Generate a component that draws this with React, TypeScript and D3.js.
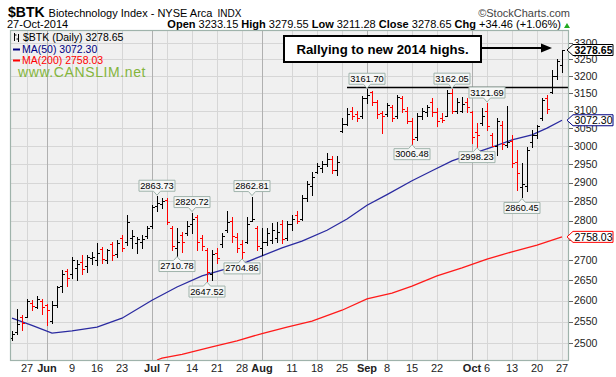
import React from "react";
import * as d3 from "d3";

// ---------- DATA ----------
const dates = [
  "05-21","05-22","05-23","05-27","05-28","05-29","05-30",
  "06-02","06-03","06-04","06-05","06-06","06-09","06-10","06-11","06-12","06-13",
  "06-16","06-17","06-18","06-19","06-20","06-23","06-24","06-25","06-26","06-27","06-30",
  "07-01","07-02","07-03","07-07","07-08","07-09","07-10","07-11","07-14","07-15","07-16","07-17","07-18",
  "07-21","07-22","07-23","07-24","07-25","07-28","07-29","07-30","07-31",
  "08-01","08-04","08-05","08-06","08-07","08-08","08-11","08-12","08-13","08-14","08-15",
  "08-18","08-19","08-20","08-21","08-22","08-25","08-26","08-27","08-28","08-29",
  "09-02","09-03","09-04","09-05","09-08","09-09","09-10","09-11","09-12","09-15","09-16","09-17","09-18","09-19",
  "09-22","09-23","09-24","09-25","09-26","09-29","09-30",
  "10-01","10-02","10-03","10-06","10-07","10-08","10-09","10-10","10-13","10-14","10-15","10-16","10-17",
  "10-20","10-21","10-22","10-23","10-24","10-27",
];

const opens = [
  2512, 2526, 2560, 2562, 2595, 2585, 2600,
  2590, 2552, 2590, 2636, 2672, 2665, 2680, 2695, 2684, 2704,
  2700, 2728, 2700, 2740, 2714, 2756, 2745, 2755, 2742, 2745, 2760,
  2785, 2838, 2842, 2855, 2780, 2730, 2762, 2768, 2790, 2810, 2755, 2725, 2665,
  2718, 2740, 2775, 2800, 2758, 2740, 2745, 2800, 2780,
  2730, 2745, 2750, 2755, 2790, 2755, 2790, 2815, 2805, 2860, 2890,
  2930, 2940, 2950, 2965, 2935, 3042, 3062, 3098, 3090, 3085,
  3135, 3155, 3125, 3093, 3090, 3110, 3085, 3135, 3100, 3070, 3025, 3085, 3095, 3125,
  3095, 3080, 3085, 3150, 3100, 3100, 3125,
  3095, 3040, 3065, 3100, 3030, 3000, 3060, 3003, 3015, 2955, 2888, 2890, 3010,
  3030, 3080, 3135, 3155, 3200, 3233.15,
];

const highs = [
  2528, 2580, 2566, 2603, 2601, 2610, 2604,
  2593, 2598, 2636, 2675, 2676, 2706, 2700, 2712, 2712, 2720,
  2743, 2733, 2728, 2745, 2750, 2762, 2815, 2775, 2758, 2762, 2786,
  2840, 2863.73, 2858, 2858, 2785, 2780, 2771, 2798, 2820.72, 2815, 2763, 2729, 2725,
  2729, 2767, 2825, 2808, 2767, 2750, 2808, 2862.81, 2787,
  2781, 2780, 2793, 2795, 2802, 2798, 2815, 2825, 2868, 2905, 2928,
  2952, 2958, 2980, 2971, 2972, 3078, 3107, 3110, 3100, 3141,
  3161.7, 3158, 3131, 3099, 3121, 3116, 3146, 3143, 3110, 3079, 3093, 3108, 3116, 3136,
  3107, 3093, 3160, 3162.05, 3136, 3140, 3135,
  3099, 3064, 3107, 3121.69, 3036, 3080, 3070, 3112, 3030, 2990, 2952, 2998, 3045,
  3060, 3136, 3146, 3218, 3251, 3279.55,
];

const lows = [
  2508, 2522, 2530, 2560, 2578, 2582, 2567,
  2542, 2546, 2584, 2620, 2636, 2654, 2650, 2664, 2670, 2690,
  2688, 2693, 2693, 2700, 2708, 2722, 2738, 2730, 2716, 2730, 2756,
  2780, 2825, 2832, 2790, 2725, 2710.78, 2720, 2763, 2767, 2725, 2725, 2647.52, 2650,
  2692, 2733, 2771, 2746, 2720, 2704.86, 2742, 2798, 2725,
  2712, 2737, 2742, 2745, 2742, 2750, 2775, 2794, 2802, 2850, 2868,
  2925, 2930, 2945, 2925, 2920, 3040, 3060, 3075, 3070, 3080,
  3121, 3115, 3079, 3036, 3084, 3070, 3079, 3095, 3065, 3006.48, 3017, 3075, 3084, 3084,
  3055, 3068, 3084, 3093, 3093, 3095, 3095,
  3008, 2998.23, 3060, 3045, 3000, 2975, 2993, 2998, 2942, 2881, 2860.45, 2877, 2998,
  3022, 3074, 3093, 3150, 3191, 3211.28,
];

const closes = [
  2520, 2545, 2546, 2598, 2586, 2604, 2585,
  2577, 2590, 2632, 2666, 2656, 2700, 2690, 2676, 2706, 2708,
  2716, 2703, 2724, 2712, 2742, 2730, 2795, 2760, 2752, 2752, 2780,
  2835, 2845, 2850, 2795, 2735, 2745, 2745, 2785, 2805, 2745, 2735, 2670, 2715,
  2705, 2760, 2795, 2760, 2730, 2720, 2790, 2805, 2735,
  2745, 2768, 2775, 2770, 2752, 2790, 2805, 2800, 2860, 2895, 2915,
  2945, 2950, 2965, 2935, 2955, 3062, 3090, 3085, 3078, 3135,
  3145, 3125, 3090, 3083, 3115, 3080, 3140, 3105, 3070, 3020, 3085, 3100, 3110, 3095,
  3070, 3072, 3150, 3100, 3125, 3120, 3110,
  3025, 3030, 3085, 3055, 3000, 3070, 3005, 3010, 2952, 2925, 2895, 2990, 3030,
  3055, 3130, 3105, 3200, 3244.19, 3278.65,
];

const ma50Dates = ["05-21","05-28","06-03","06-09","06-16","06-23","07-01","07-09","07-16","07-23","07-29","08-01","08-07","08-13","08-20","08-26","09-02","09-08","09-15","09-19","09-25","10-01","10-07","10-13","10-17","10-22","10-27"];
const ma50Values = [2558, 2541, 2523, 2528, 2537, 2558, 2601, 2633, 2660, 2678, 2695, 2710, 2730, 2747, 2775, 2804, 2840, 2868, 2905, 2932, 2959, 2978, 2997, 3017, 3031, 3050, 3072.3];

const ma200Dates = ["07-02","07-03","07-10","07-18","07-25","08-01","08-08","08-15","08-25","09-02","09-09","09-15","09-22","09-29","10-06","10-13","10-20","10-27"];
const ma200Values = [2461, 2465, 2474, 2491, 2505, 2522, 2537, 2551, 2577, 2604, 2618, 2635, 2660, 2680, 2702, 2720, 2737, 2758.03];

const yTicks = [2500, 2550, 2600, 2650, 2700, 2750, 2800, 2850, 2900, 2950, 3000, 3050, 3100, 3150, 3200, 3250, 3300];

const xTickDates = ["05-27","06-02","06-09","06-16","06-23","07-01","07-07","07-14","07-21","07-28","08-01","08-11","08-18","08-25","09-02","09-08","09-15","09-22","10-01","10-06","10-13","10-20","10-27"];
const xTickLabels = ["27","Jun","9","16","23","Jul","7","14","21","28","Aug","11","18","25","Sep","8","15","22","Oct","6","13","20","27"];
const monthTickDates = ["06-02","07-01","08-01","09-02","10-01"];

const peakDates = ["07-02","07-14","07-30","09-02","09-25","10-06","07-09","07-17","07-28","09-15","10-02","10-15"];
const peakValues = [2863.73, 2820.72, 2862.81, 3161.7, 3162.05, 3121.69, 2710.78, 2647.52, 2704.86, 3006.48, 2998.23, 2860.45];
const peakKinds = ["high","high","high","high","high","high","low","low","low","low","low","low"];

const resistanceStart = "08-26";
const resistanceLevel = 3169;

const lastClose = 3278.65;
const ma50Last = 3072.3;
const ma200Last = 2758.03;

// ---------- CHART ----------
const FONT = "'Liberation Sans', Arial, Helvetica, sans-serif";
const PL = 10, PR = 569, PT = 30, PB = 361;

export default function App() {
  const x = d3.scalePoint<string>().domain(dates).range([12, 562]);
  const y = d3.scaleLog().domain([2500, 3300]).range([343, 43]);
  const cr = (v: number) => Math.round(v) + 0.5;

  const line = d3
    .line<[string, number]>()
    .x((d) => x(d[0]) as number)
    .y((d) => y(d[1]));

  const ma50Path = line(ma50Dates.map((d, i) => [d, ma50Values[i]] as [string, number])) || "";
  const ma200Path = line(ma200Dates.map((d, i) => [d, ma200Values[i]] as [string, number])) || "";

  const bars = dates.map((d, i) => {
    const cx = cr(x(d) as number);
    const o = cr(y(opens[i]));
    const c = cr(y(closes[i]));
    const h = y(highs[i]);
    const l = y(lows[i]);
    const up = closes[i] >= opens[i];
    const p = `M${cx},${Math.round(h)}V${Math.round(l) + 1}M${cx - 2.5},${o}H${cx}M${cx},${c}H${cx + 2.5}`;
    return <path key={d} d={p} stroke={up ? "#000" : "#ff0000"} strokeWidth={1} fill="none" />;
  });

  const tagValues = [lastClose, ma50Last, ma200Last];

  const tag = (val: number, color: string, bold: boolean, key: string) => {
    const cy = y(val);
    const t = cy - 5.5, b = cy + 5.5;
    return (
      <g key={key}>
        <path d={`M567,${cy}L573,${t}H613V${b}H573Z`} fill="#fff" stroke={color} strokeWidth={1} />
        <text x={593.5} y={cy + 3.8} textAnchor="middle" fontSize={10.5} fontWeight={bold ? "bold" : "normal"} fill="#000" fontFamily={FONT}>
          {val.toFixed(2)}
        </text>
      </g>
    );
  };

  const peaks = peakDates.map((d, i) => {
    const bx = x(d) as number;
    const v = peakValues[i];
    const hw = 18;
    let p: string, ty: number;
    if (peakKinds[i] === "high") {
      const tip = y(v) - 1;
      const bb = tip - 4;
      const bt = bb - 11;
      p = `M${bx - hw},${bt}H${bx + hw}V${bb}H${bx + 3.5}L${bx},${tip}L${bx - 3.5},${bb}H${bx - hw}Z`;
      ty = bb - 2.5;
    } else {
      const tip = y(v) + 1;
      const bt = tip + 4;
      const bb = bt + 11;
      p = `M${bx - hw},${bt}H${bx - 3.5}L${bx},${tip}L${bx + 3.5},${bt}H${bx + hw}V${bb}H${bx - hw}Z`;
      ty = bb - 2.5;
    }
    return (
      <g key={"pk" + i}>
        <path d={p} fill="#f6f7f6" stroke="#9fb3ab" strokeWidth={1} />
        <text x={bx} y={ty} textAnchor="middle" fontSize={9.3} fill="#000" fontFamily={FONT}>
          {v.toFixed(2)}
        </text>
      </g>
    );
  });

  const resY = cr(y(resistanceLevel));

  return (
    <svg width={616} height={377} style={{ position: "absolute", left: 0, top: 0, background: "#fff" }} fontFamily={FONT}>
      <defs>
        <clipPath id="plotClip">
          <rect x={PL} y={PT} width={PR - PL} height={PB - PT} />
        </clipPath>
      </defs>

      {/* header */}
      <text x={8} y={16.5} fontSize={11} fill="#000">
        <tspan fontWeight="bold" fontSize={14}>$BTK</tspan>
        <tspan dx={4}>Biotechnology Index - NYSE Arca</tspan>
        <tspan dx={5} fontSize={10}>INDX</tspan>
      </text>
      <text x={570} y={16.5} textAnchor="end" fontSize={11} fill="#444">©StockCharts.com</text>
      <text x={7} y={28} fontSize={11} fill="#000">27-Oct-2014</text>
      <text x={561} y={28} textAnchor="end" fontSize={11} fill="#000">
        <tspan fontWeight="bold">Open</tspan>
        <tspan> 3233.15 </tspan>
        <tspan fontWeight="bold">High</tspan>
        <tspan> 3279.55 </tspan>
        <tspan fontWeight="bold">Low</tspan>
        <tspan> 3211.28 </tspan>
        <tspan fontWeight="bold">Close</tspan>
        <tspan> 3278.65 </tspan>
        <tspan fontWeight="bold">Chg</tspan>
        <tspan> +34.46 (+1.06%)</tspan>
      </text>
      <path d="M564,28L570,28L567,23Z" fill="#22aa22" />

      {/* plot background */}
      <rect x={PL} y={PT} width={PR - PL} height={PB - PT} fill="#f0f0f0" />

      {/* horizontal grid */}
      {yTicks.map((t) => (
        <line key={"hg" + t} x1={PL} x2={PR} y1={cr(y(t))} y2={cr(y(t))} stroke="#d6d6d6" strokeWidth={1} />
      ))}
      {/* vertical grid */}
      {xTickDates.map((d) => {
        const isM = monthTickDates.includes(d);
        const gx = cr(x(d) as number);
        return <line key={"vg" + d} x1={gx} x2={gx} y1={PT} y2={PB} stroke={isM ? "#b0b0b0" : "#d6d6d6"} strokeWidth={1} />;
      })}

      <g clipPath="url(#plotClip)">
        <path d={ma200Path} fill="none" stroke="#ff1a1a" strokeWidth={1.3} />
        <path d={ma50Path} fill="none" stroke="#2a2aa0" strokeWidth={1.3} />
        {bars}
        <line x1={x(resistanceStart) as number} x2={PR} y1={resY} y2={resY} stroke="#000" strokeWidth={1.4} />
      </g>

      {peaks}

      {/* annotation box */}
      <rect x={284} y={36} width={197} height={26} fill="#fff" stroke="#000" strokeWidth={2} />
      <text x={382.5} y={54} textAnchor="middle" fontSize={13.2} fontWeight="bold" fill="#000">Rallying to new 2014 highs.</text>
      <line x1={482} x2={543} y1={48} y2={48} stroke="#000" strokeWidth={2} />
      <path d="M541,43.5L552,48L541,52.5Z" fill="#000" />

      {/* legend */}
      <g>
        <path d="M14.5,33V41M14.5,35H16.5M18.5,34V42M16.5,39H18.5" stroke="#000" strokeWidth={1} fill="none" />
        <text x={23} y={41} fontSize={10.5} fill="#000">$BTK (Daily) 3278.65</text>
        <line x1={13} x2={20} y1={49.5} y2={49.5} stroke="#000080" strokeWidth={2} />
        <text x={22} y={53} fontSize={10.5} fill="#000080">MA(50) 3072.30</text>
        <line x1={13} x2={20} y1={60.5} y2={60.5} stroke="#ff0000" strokeWidth={2} />
        <text x={22} y={64} fontSize={10.5} fill="#ff0000">MA(200) 2758.03</text>
        <text x={18} y={77} fontSize={14} fill="#84b53c" letterSpacing={0.6}>www.CANSLIM.net</text>
      </g>

      {/* plot border */}
      <rect x={PL + 0.5} y={PT + 0.5} width={PR - PL - 1} height={PB - PT - 1} fill="none" stroke="#9fb3ab" strokeWidth={1.2} />

      {/* y axis */}
      {yTicks.map((t) => {
        const hidden = tagValues.some((v) => Math.abs(y(v) - y(t)) < 5);
        return (
          <g key={"yt" + t}>
            <line x1={PR} x2={PR + 4} y1={cr(y(t))} y2={cr(y(t))} stroke="#666" />
            {!hidden && <text x={574} y={y(t) + 3.7} fontSize={10.5} fill="#222">{t}</text>}
          </g>
        );
      })}

      {/* x axis */}
      {xTickDates.map((d, i) => {
        const isM = monthTickDates.includes(d);
        return (
          <text key={"xt" + d} x={x(d) as number} y={372} textAnchor="middle" fontSize={11} fontWeight={isM ? "bold" : "normal"} fill="#222">
            {xTickLabels[i]}
          </text>
        );
      })}

      {tag(ma200Last, "#ff0000", false, "t200")}
      {tag(ma50Last, "#000080", false, "t50")}
      {tag(lastClose, "#000", true, "tlast")}
    </svg>
  );
}
